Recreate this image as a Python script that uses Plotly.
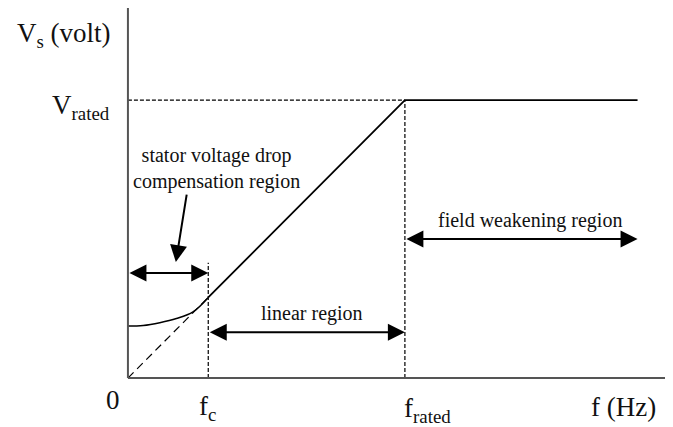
import plotly.graph_objects as go

# frequency / voltage in per-unit of the rated values
f_c = 0.29
f_rated = 1.0
f_max = 1.84
v_rated = 1.0

# low speed curve with stator drop compensation
comp_f = [0.0, 0.055, 0.115, 0.175, 0.235, 0.29]
comp_v = [0.187, 0.189, 0.199, 0.214, 0.238, 0.29]

# V/f line: linear part then constant voltage
vf_f = [f_c, f_rated, f_max]
vf_v = [f_c, v_rated, v_rated]

# ideal V/f line without compensation
ideal_f = [0.0, f_c]
ideal_v = [0.0, f_c]

FONT = "Liberation Serif, Times New Roman, Times, serif"
INK = "#111111"

fig = go.Figure()

fig.add_trace(go.Scatter(x=comp_f, y=comp_v, mode="lines", line_shape="spline",
                         line=dict(color="black", width=1.5), hoverinfo="skip"))
fig.add_trace(go.Scatter(x=vf_f, y=vf_v, mode="lines",
                         line=dict(color="black", width=1.8), hoverinfo="skip"))
fig.add_trace(go.Scatter(x=ideal_f, y=ideal_v, mode="lines",
                         line=dict(color="black", width=1.2, dash="8px,5px"), hoverinfo="skip"))

# dashed guide lines
guides = [
    dict(x0=0, y0=v_rated, x1=f_rated, y1=v_rated),
    dict(x0=f_rated, y0=0, x1=f_rated, y1=v_rated),
    dict(x0=f_c, y0=0, x1=f_c, y1=0.415),
]
for g in guides:
    fig.add_shape(type="line", xref="x", yref="y", **g,
                  line=dict(color="black", width=1.2, dash="4px,2px"))

# axes
fig.add_shape(type="line", xref="x", yref="y", x0=0, y0=0, x1=0, y1=1.34,
              line=dict(color="#555555", width=2))
fig.add_shape(type="line", xref="x", yref="y", x0=0, y0=0, x1=1.97, y1=0,
              line=dict(color="#555555", width=2))


def arrow(x, y, ax, ay, both=True):
    fig.add_annotation(x=x, y=y, ax=ax, ay=ay, xref="x", yref="y", axref="x", ayref="y",
                       text="", showarrow=True, arrowhead=2, arrowsize=1.7, arrowwidth=2,
                       arrowcolor="black", arrowside="end+start" if both else "end",
                       standoff=0, startstandoff=0)


arrow(f_c, 0.378, 0, 0.378)
arrow(f_rated, 0.165, f_c, 0.165)
arrow(f_max, 0.5, f_rated, 0.5)
arrow(0.173, 0.417, 0.213, 0.665, both=False)


def label(x, y, text, size):
    fig.add_annotation(x=x, y=y, xref="x", yref="y", text=text, showarrow=False,
                       xanchor="center", yanchor="middle",
                       font=dict(family=FONT, size=size, color=INK))


label(-0.231, 1.234, "V<sub>s</sub> (volt)", 27)
label(-0.17, 0.975, "V<sub>rated</sub>", 27)
label(-0.054, -0.079, "0", 27)
label(0.289, -0.108, "f<sub>c</sub>", 27)
label(1.083, -0.115, "f<sub>rated</sub>", 27)
label(1.79, -0.104, "f (Hz)", 27)

label(0.321, 0.754, "stator voltage drop<br>compensation region", 20)
label(0.664, 0.234, "linear region", 20)
label(1.451, 0.568, "field weakening region", 20)

# the page body adds an 8px offset, so the figure is drawn 8px smaller
fig.update_layout(
    width=665, height=419,
    margin=dict(l=0, r=0, t=0, b=0),
    paper_bgcolor="white", plot_bgcolor="white",
    showlegend=False,
    xaxis=dict(range=[-0.433, 1.968], visible=False, fixedrange=True),
    yaxis=dict(range=[-0.176, 1.331], visible=False, fixedrange=True),
)

fig.write_html("out.html")
